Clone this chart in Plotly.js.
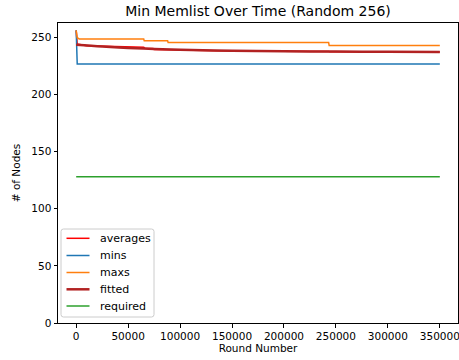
<!DOCTYPE html>
<html>
<head>
<meta charset="utf-8">
<script src="https://cdn.plot.ly/plotly-3.0.1.min.js"></script>
<style>html,body{margin:0;padding:0;background:#fff;}#chart{width:459px;height:360px;}</style>
</head>
<body>
<div id="chart"></div>
<script>
// Data
const avgRounds = [0, 1000, 10000, 30000, 65000, 66000, 74000, 75000, 88000, 89000, 150000, 243000, 244000, 350000];
const avgValues = [256, 244, 242.5, 241.8, 241.2, 240.4, 240.2, 239.2, 239.0, 238.4, 237.9, 237.5, 237.2, 237.0];

const minRounds = [0, 1000, 350000];
const minValues = [256, 226.5, 226.5];

const maxRounds = [0, 1000, 3000, 65000, 65500, 88000, 88500, 243000, 243500, 350000];
const maxValues = [256, 249.5, 248.5, 248.5, 246.8, 246.8, 245.3, 245.3, 242.7, 242.7];

const fitRounds = [0, 25000, 50000, 75000, 100000, 150000, 200000, 250000, 300000, 350000];
const fitValues = [243.3, 241.8, 240.6, 239.7, 239.0, 238.2, 237.7, 237.4, 237.2, 237.1];

const reqRounds = [0, 350000];
const reqValues = [128, 128];

const xTicks = [0, 50000, 100000, 150000, 200000, 250000, 300000, 350000];
const yTicks = [0, 50, 100, 150, 200, 250];

const seriesNames = ["averages", "mins", "maxs", "fitted", "required"];
const seriesColors = ["#ff0000", "#1f77b4", "#ff7f0e", "#b22222", "#2ca02c"];
const seriesWidths = [1.5, 1.5, 1.5, 2.5, 1.5];

const xs = [avgRounds, minRounds, maxRounds, fitRounds, reqRounds];
const ys = [avgValues, minValues, maxValues, fitValues, reqValues];

const traces = seriesNames.map((n, i) => ({
  x: xs[i], y: ys[i], name: n, mode: "lines",
  line: {color: seriesColors[i], width: seriesWidths[i], shape: n === "fitted" ? "spline" : "linear"}
}));

// plot area in pixels
const W = 459, H = 360, L = 58, R = 1, T = 23, B = 37;
const pw = W - L - R, ph = H - T - B;
const px = v => (v - L) / pw;
const py = v => (H - B - v) / ph;

// manual legend (matplotlib style)
const shapes = [];
const annotations = [];
const bx0 = 61, bx1 = 154, by0 = 229, by1 = 317, rr = 2.5;
shapes.push({
  type: "path", xref: "paper", yref: "paper",
  path: `M ${px(bx0 + rr)},${py(by0)} L ${px(bx1 - rr)},${py(by0)} Q ${px(bx1)},${py(by0)} ${px(bx1)},${py(by0 + rr)} L ${px(bx1)},${py(by1 - rr)} Q ${px(bx1)},${py(by1)} ${px(bx1 - rr)},${py(by1)} L ${px(bx0 + rr)},${py(by1)} Q ${px(bx0)},${py(by1)} ${px(bx0)},${py(by1 - rr)} L ${px(bx0)},${py(by0 + rr)} Q ${px(bx0)},${py(by0)} ${px(bx0 + rr)},${py(by0)} Z`,
  fillcolor: "rgba(255,255,255,0.8)", line: {color: "#cccccc", width: 1}
});
const itemY = [238.3, 255.5, 272.5, 289.3, 306];
seriesNames.forEach((n, i) => {
  shapes.push({type: "line", xref: "paper", yref: "paper", x0: px(66.5), x1: px(89.5), y0: py(itemY[i]), y1: py(itemY[i]),
    line: {color: seriesColors[i], width: seriesWidths[i]}});
  annotations.push({xref: "paper", yref: "paper", x: px(99), y: py(itemY[i]), xanchor: "left", yanchor: "middle",
    text: n, showarrow: false, font: {family: "DejaVu Sans", size: 11, color: "#000"}, xshift: -1});
});

const layout = {
  width: W, height: H,
  margin: {l: L, r: R, t: T, b: B},
  paper_bgcolor: "#fff", plot_bgcolor: "#fff",
  font: {family: "DejaVu Sans", size: 10.5, color: "#000"},
  title: {text: "Min Memlist Over Time (Random 256)", font: {family: "DejaVu Sans", size: 14, color: "#000"}, x: 0.5, xref: "paper", y: 0.968, yanchor: "middle"},
  xaxis: {
    range: [-17500, 367500], tickvals: xTicks, ticktext: xTicks.map(String),
    ticklabeloverflow: "allow",
    showgrid: false, zeroline: false, showline: true, mirror: true, linecolor: "#000", linewidth: 1,
    ticks: "outside", ticklen: 3.5, tickcolor: "#000",
    title: {text: "Round Number", font: {family: "DejaVu Sans", size: 10.5, color: "#000"}, standoff: 3}
  },
  yaxis: {
    range: [0, 262.4], tickvals: yTicks,
    showgrid: false, zeroline: false, showline: true, mirror: true, linecolor: "#000", linewidth: 1,
    ticks: "outside", ticklen: 3.5, tickcolor: "#000",
    title: {text: "# of Nodes", font: {family: "DejaVu Sans", size: 10.5, color: "#000"}, standoff: 8}
  },
  showlegend: false,
  shapes: shapes,
  annotations: annotations
};

Plotly.newPlot("chart", traces, layout, {displayModeBar: false, staticPlot: true});
</script>
</body>
</html>
